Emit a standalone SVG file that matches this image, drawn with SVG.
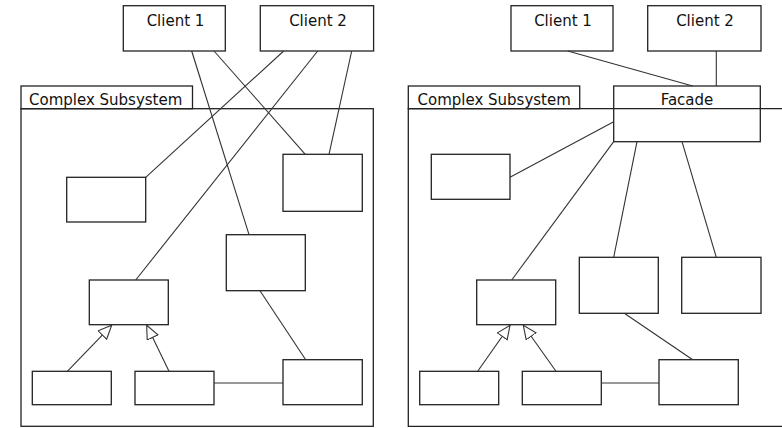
<svg xmlns="http://www.w3.org/2000/svg" width="782" height="428" viewBox="0 0 782 428">
<style>
.box{fill:#fff;stroke:#222;stroke-width:1.3}
.frame{fill:none;stroke:#222;stroke-width:1.3}
.ln{fill:none;stroke:#333;stroke-width:1.1}
.t{font-family:"DejaVu Sans",Verdana,sans-serif;font-size:15px;fill:#111}
</style>
<defs>
<marker id="gen" markerUnits="userSpaceOnUse" markerWidth="16" markerHeight="14" refX="14" refY="6.5" orient="auto">
<path d="M0.5,0.5 L14,6.5 L0.5,12.5 Z" fill="#fff" stroke="#333" stroke-width="1.1"/>
</marker>
</defs>
<rect width="782" height="428" fill="#fff"/>

<!-- Left panel -->
<g id="left-subsystem">
<rect class="frame" x="21" y="86" width="171.5" height="22.7"/>
<rect class="frame" x="21" y="108.7" width="352.3" height="317.6"/>
<text class="t" x="29" y="105">Complex Subsystem</text>
</g>
<g id="left-client1"><rect class="box" x="123.3" y="5.7" width="102" height="45.3"/><text class="t" x="175.5" y="25.7" text-anchor="middle">Client 1</text></g>
<g id="left-client2"><rect class="box" x="260.3" y="5.7" width="113.3" height="45.3"/><text class="t" x="318" y="25.7" text-anchor="middle">Client 2</text></g>
<g id="left-a"><rect class="box" x="66.7" y="177.3" width="79" height="44.7"/></g>
<g id="left-b"><rect class="box" x="283" y="154.3" width="79.3" height="57"/></g>
<g id="left-c"><rect class="box" x="226.3" y="234.7" width="79" height="56"/></g>
<g id="left-d"><rect class="box" x="89.3" y="280" width="79" height="44.7"/></g>
<g id="left-e"><rect class="box" x="32.3" y="371.3" width="79" height="33.4"/></g>
<g id="left-f"><rect class="box" x="135" y="371.3" width="79" height="33.4"/></g>
<g id="left-g"><rect class="box" x="283" y="359.7" width="79.3" height="45"/></g>

<!-- Right panel -->
<g id="right-subsystem">
<rect class="frame" x="408.3" y="86" width="171.4" height="22.7"/>
<path class="frame" d="M790,108.7 H408.3 V426.3 H790"/>
<text class="t" x="417.5" y="105">Complex Subsystem</text>
</g>
<g id="right-client1"><rect class="box" x="511" y="5.7" width="102" height="45.3"/><text class="t" x="563" y="25.7" text-anchor="middle">Client 1</text></g>
<g id="right-client2"><rect class="box" x="647.7" y="5.7" width="113.3" height="45.3"/><text class="t" x="705" y="25.7" text-anchor="middle">Client 2</text></g>
<g id="right-facade"><rect class="frame" x="613.7" y="86" width="146.6" height="55.7"/><text class="t" x="687" y="105" text-anchor="middle">Facade</text></g>
<g id="right-a"><rect class="box" x="431.3" y="154.3" width="78.7" height="45"/></g>
<g id="right-d"><rect class="box" x="476.7" y="280" width="79" height="44.7"/></g>
<g id="right-h"><rect class="box" x="579.3" y="257.3" width="79" height="56"/></g>
<g id="right-i"><rect class="box" x="681.7" y="257.3" width="79.3" height="56"/></g>
<g id="right-e"><rect class="box" x="419.7" y="371.3" width="79" height="33.4"/></g>
<g id="right-f"><rect class="box" x="522.3" y="371.3" width="79" height="33.4"/></g>
<g id="right-g"><rect class="box" x="659" y="359.7" width="79.3" height="45"/></g>

<g id="connectors">
<line class="ln" x1="191.7" y1="51" x2="249" y2="234.7"/>
<line class="ln" x1="214" y1="51" x2="305.3" y2="154.3"/>
<line class="ln" x1="283.7" y1="51" x2="145.7" y2="177.3"/>
<line class="ln" x1="317.7" y1="51" x2="135.7" y2="280"/>
<line class="ln" x1="351.7" y1="51" x2="329" y2="154.3"/>
<line class="ln" x1="260" y1="290.7" x2="305.7" y2="359.7"/>
<line class="ln" x1="214" y1="383" x2="283" y2="383"/>
<line class="ln" x1="67.3" y1="371.3" x2="111.7" y2="325.3" marker-end="url(#gen)"/>
<line class="ln" x1="169" y1="371.3" x2="146.7" y2="325.3" marker-end="url(#gen)"/>

<line class="ln" x1="567.7" y1="51" x2="692.7" y2="86"/>
<line class="ln" x1="716.3" y1="51" x2="716.3" y2="86"/>
<line class="ln" x1="613.7" y1="121.7" x2="510" y2="177.3"/>
<line class="ln" x1="613.7" y1="141.7" x2="511.7" y2="280"/>
<line class="ln" x1="637" y1="141.7" x2="613.7" y2="257.3"/>
<line class="ln" x1="682" y1="141.7" x2="716.3" y2="257.3"/>
<line class="ln" x1="624.3" y1="313.3" x2="692.7" y2="359.7"/>
<line class="ln" x1="601.3" y1="383" x2="659" y2="383"/>
<line class="ln" x1="477.7" y1="371.3" x2="510" y2="325.3" marker-end="url(#gen)"/>
<line class="ln" x1="556" y1="371.3" x2="523.3" y2="325.3" marker-end="url(#gen)"/>
</g>
</svg>
